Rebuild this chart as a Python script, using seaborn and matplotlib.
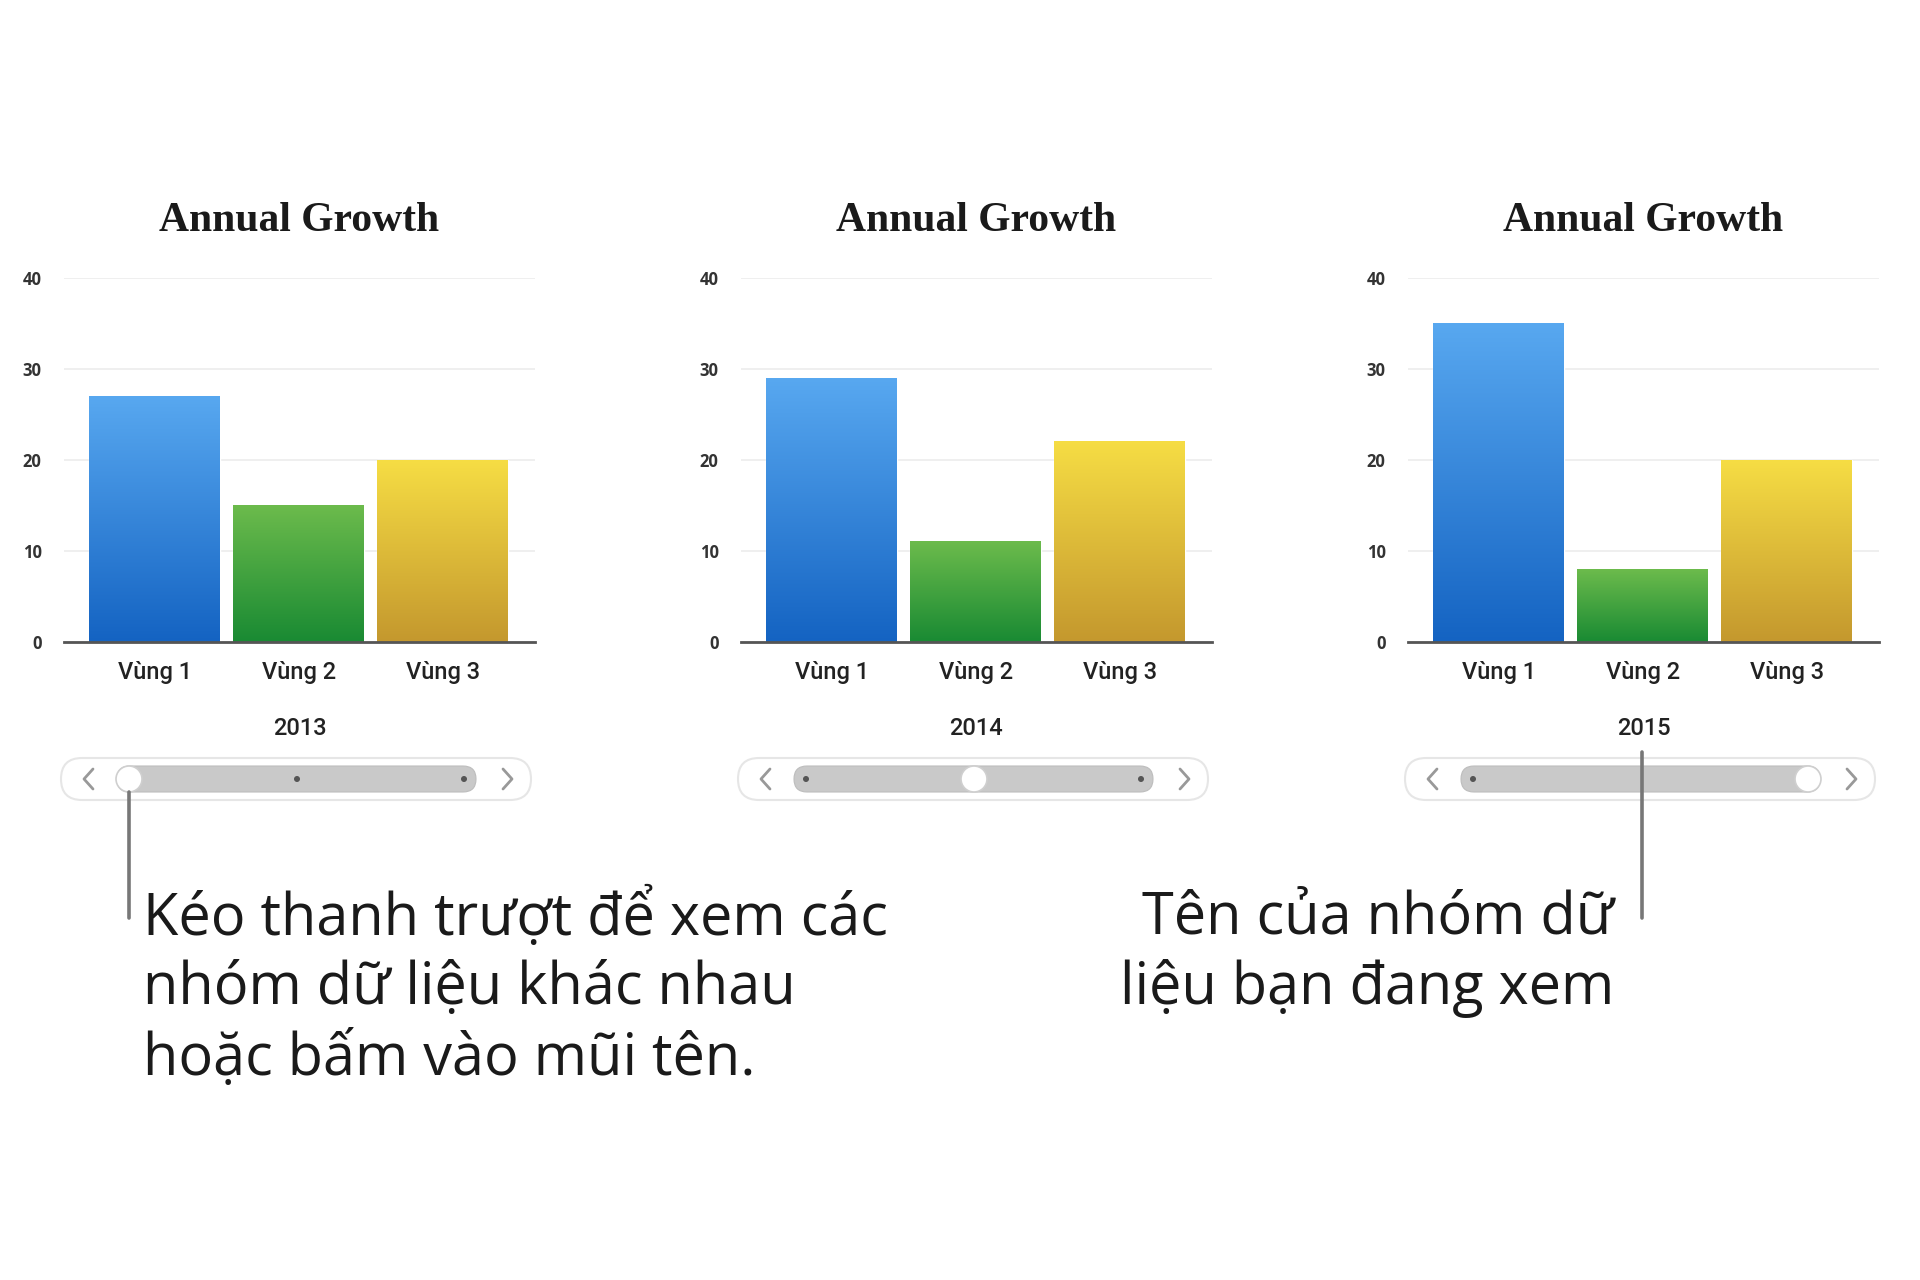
import numpy as np
import matplotlib.pyplot as plt
import seaborn as sns
from matplotlib.patches import FancyBboxPatch, Circle
from matplotlib.colors import LinearSegmentedColormap

# --- Data --------------------------------------------------------------------
years = ["2013", "2014", "2015"]
regions = ["Vùng 1", "Vùng 2", "Vùng 3"]
growth_2013 = [27, 15, 20]
growth_2014 = [29, 11, 22]
growth_2015 = [35, 8, 20]
growth = [growth_2013, growth_2014, growth_2015]
yticks = [0, 10, 20, 30, 40]

title_text = "Annual Growth"
note_left = ["Kéo thanh trượt để xem các", "nhóm dữ liệu khác nhau", "hoặc bấm vào mũi tên."]
note_right = ["Tên của nhóm dữ", "liệu bạn đang xem"]

# gradient colours per region: (top, bottom)
grad = [("#58a8f0", "#1463c2"), ("#6cbb4c", "#198a33"), ("#f6dd44", "#c4982e")]

# --- Setup -------------------------------------------------------------------
sns.set_theme(style="white")
plt.rcParams['font.family'] = ['Open Sans', 'DejaVu Sans']

W, H = 1920, 1280
fig = plt.figure(figsize=(19.2, 12.8), dpi=100)
fig.patch.set_facecolor("white")

panel_left = [64, 741, 1408]   # axis left edge in px
ax_w, ax_top, ax_bot = 471, 278, 642

for i, (yr, vals) in enumerate(zip(years, growth)):
    L = panel_left[i]
    ax = fig.add_axes([L / W, 1 - ax_bot / H, ax_w / W, (ax_bot - ax_top) / H])
    sns.barplot(x=regions, y=vals, hue=regions, palette=[g[0] for g in grad],
                width=0.91, saturation=1, legend=False, ax=ax)
    # vertical gradient fill for each bar
    for bar, (top, bot) in zip(ax.patches, grad):
        x0, w, h = bar.get_x(), bar.get_width(), bar.get_height()
        cmap = LinearSegmentedColormap.from_list("g", [bot, top])
        ax.imshow(np.linspace(0, 1, 256).reshape(-1, 1), cmap=cmap, origin="lower",
                  extent=[x0, x0 + w, 0, h], aspect="auto", zorder=2)
        bar.set_facecolor("none")
    ax.set_xlim(-0.632, 2.641)
    ax.set_ylim(0, 40)
    ax.set_yticks(yticks)
    ax.grid(axis="y", color="#ececec", linewidth=1.2, zorder=0)
    ax.set_axisbelow(True)
    for s in ["top", "right", "left"]:
        ax.spines[s].set_visible(False)
    ax.spines["bottom"].set_color("#555555")
    ax.spines["bottom"].set_linewidth(2)
    ax.tick_params(axis="y", length=0, pad=16, labelsize=12, labelcolor="#333333")
    ax.tick_params(axis="x", length=0, pad=14, labelsize=17, labelcolor="#222222")
    for t in ax.get_yticklabels():
        t.set_fontweight("bold")
    for t in ax.get_xticklabels():
        t.set_family("Roboto")
        t.set_fontweight("medium")
    ax.set_xlabel(yr, fontsize=17, color="#222222", labelpad=23.5,
                  family="Roboto", fontweight="medium")
    ax.set_ylabel("")
    ax.set_title(title_text, fontsize=30, family="Liberation Serif",
                 fontweight="bold", color="#1a1a1a", pad=34)

# --- Overlay: sliders, callouts, notes ----------------------------------------
ov = fig.add_axes([0, 0, 1, 1], facecolor="none")
ov.set_xlim(0, W)
ov.set_ylim(H, 0)
ov.axis("off")

yc = 779
callout_panel = 2
for i in range(len(years)):
    L = panel_left[i]
    ov.add_patch(FancyBboxPatch((L - 3, yc - 21), 470, 42,
                                boxstyle="round,pad=0,rounding_size=21",
                                fc="white", ec="#e6e6e6", lw=1.5))
    ov.add_patch(FancyBboxPatch((L + 53, yc - 13), 359, 26,
                                boxstyle="round,pad=0,rounding_size=13",
                                fc="#c9c9c9", ec="#bdbdbd", lw=0.8))
    # arrows
    ov.plot([L + 29, L + 20, L + 29], [yc - 10, yc, yc + 10], color="#999999", lw=2,
            solid_capstyle="round")
    ov.plot([L + 439, L + 448, L + 439], [yc - 10, yc, yc + 10], color="#999999", lw=2,
            solid_capstyle="round")
    stops = [L + 65, L + 233, L + 400]
    for j, sx in enumerate(stops):
        if j == i:
            ov.add_patch(Circle((sx, yc), 13, fc="white", ec="#cfcfcf", lw=1.2, zorder=5))
        elif not (i == callout_panel and j == 1):
            ov.add_patch(Circle((sx, yc), 3, fc="#555555", ec="none", zorder=4))

# callout lines
ov.plot([panel_left[0] + 65, panel_left[0] + 65], [792, 918], color="#777777",
        lw=2.6, zorder=6)
x_c = panel_left[callout_panel] + 234
ov.plot([x_c, x_c], [752, 918], color="#777777", lw=2.6, zorder=6)

pitch = 71
for k, line in enumerate(note_left):
    ov.text(143, 918 + k * pitch, line, fontsize=41.5, color="#1a1a1a",
            ha="left", va="center")
for k, line in enumerate(note_right):
    ov.text(1614, 918 + k * pitch, line, fontsize=41.5, color="#1a1a1a",
            ha="right", va="center")

fig.savefig("out.png", dpi=100)
plt.close(fig)
